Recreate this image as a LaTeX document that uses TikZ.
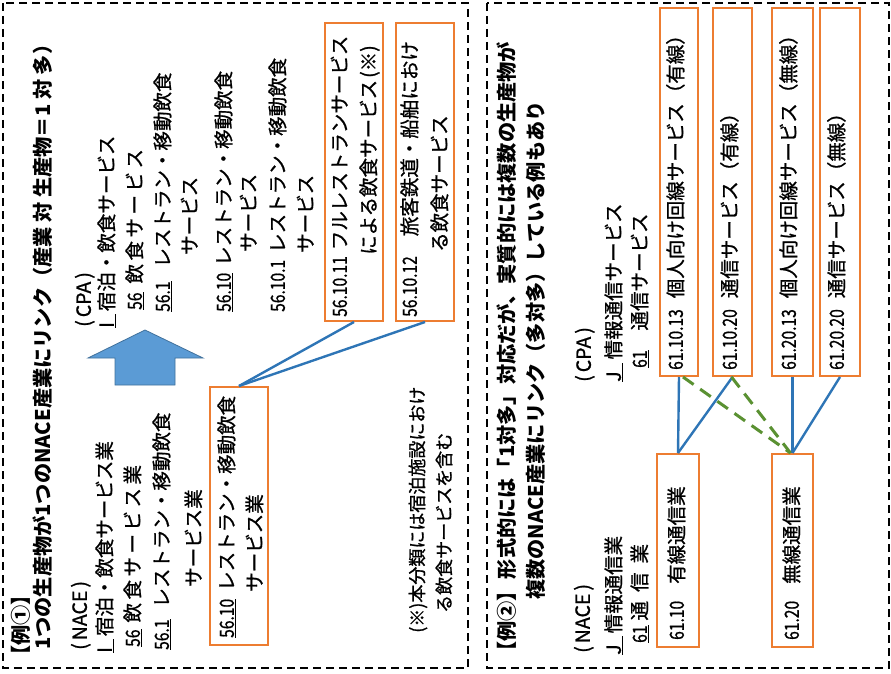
\documentclass[tikz,border=0pt]{standalone}
\usepackage{fontspec}
\usepackage{graphicx}
\setmainfont{Noto Sans CJK JP}
\newfontfamily\rfont{Noto Sans CJK JP}[FakeBold=1.0]
\definecolor{obox}{HTML}{ED7D31}
\definecolor{lblue}{HTML}{2E75B6}
\definecolor{ablue}{HTML}{5B9BD5}
\definecolor{aedge}{HTML}{41719C}
\definecolor{dgreen}{HTML}{5A9132}
\newcommand\uln[1]{\underline{#1}}
\newcommand\nm[1]{\scalebox{0.8}[1]{#1}}
\newcommand\ks{\kern3.5pt}
\begin{document}
\begin{tikzpicture}[x=1pt,y=-1pt,
  lbl/.style={rotate=90, anchor=west, inner sep=0pt, text height=0.88em, text depth=0.12em, font=\rfont\fontsize{19.5}{22}\selectfont},
  lblb/.style={lbl, font=\fontsize{20.2}{23}\selectfont\bfseries},
  lblf/.style={lbl, font=\rfont\fontsize{18}{20}\selectfont},
  obx/.style={draw=obox, line width=2pt, inner sep=0pt},
  lnk/.style={draw=lblue, line width=2.4pt},
  glnk/.style={draw=dgreen, line width=3pt, dash pattern=on 13pt off 8pt},
  pnl/.style={draw=black, line width=1.8pt, dash pattern=on 8pt off 5pt},
]
\useasboundingbox (0,0) rectangle (891,674);
% panels
\draw[pnl] (3,3) rectangle (468,668);
\draw[pnl] (487,3) rectangle (889,668);

% ---------- panel 1 ----------
\node[lblb] (h1a) at (25,666) {【例①】};
\node[lblb] (h1b) at (47,650) {1つの生産物が1つのNACE産業にリンク（産業 対 生産物＝1 対 多）};
\node[lbl] (n1) at (83,650) {(\kern3pt NACE\kern3pt)};
\node[lbl] (n2) at (108,653) {\uln{I\hspace{8pt}}\hspace{3pt}宿泊・飲食サービス業};
\node[lbl] (n3) at (136,647) {\uln{\nm{56}}\hspace{7pt}飲\ks 食\ks サ\ks ー\ks ビ\ks ス\ks 業};
\node[lbl] (n4) at (165,650) {\uln{\nm{56.1}}\hspace{12pt}レストラン・移動飲食};
\node[lbl] (n5) at (197,587) {サービス業};

\node[lbl] (p1) at (87,327) {(\kern3pt CPA\kern3pt)};
\node[lbl] (p2) at (110,328) {\uln{I\hspace{8pt}}\hspace{3pt}宿泊・飲食サービス};
\node[lbl] (p3) at (138,310) {\uln{\nm{56}}\hspace{9pt}飲\ks 食\ks サ\ks ー\ks ビ\ks ス};
\node[lbl] (p4) at (166,312) {\uln{\nm{56.1}}\hspace{14pt}レストラン・移動飲食};
\node[lbl] (p5) at (193,255) {サービス};
\node[lbl] (p6) at (227,312) {\uln{\nm{56.10}}\hspace{7pt}レストラン・移動飲食};
\node[lbl] (p7) at (252,252) {サービス};
\node[lbl] (p8) at (281,312) {\nm{56.10.1}\hspace{7pt}レストラン・移動飲食};
\node[lbl] (p9) at (309,253) {サービス};

% block arrow
\draw[fill=ablue, draw=aedge, line width=0.8pt] (145,330) -- (203,358) -- (175,358) -- (175,385) -- (115,385) -- (115,358) -- (88,358) -- cycle;

% boxes panel 1
\node[obx, minimum width=58pt, minimum height=258pt] (b5610) at (239,516) {};
\node[obx, minimum width=58pt, minimum height=298pt] (b561011) at (354,172) {};
\node[obx, minimum width=58pt, minimum height=298pt] (b561012) at (425,172) {};
\node[lbl] (b1a) at (230,638) {\uln{\nm{56.10}}\hspace{8pt}レストラン・移動飲食};
\node[lbl] (b1b) at (258,592) {サービス業};
\node[lbl] (b2a) at (343,317) {\nm{56.10.11}\hspace{6pt}フルレストランサービス};
\node[lbl] (b2b) at (372,255) {による飲食サービス\kern2pt(※)};
\node[lbl] (b3a) at (413,317) {\nm{56.10.12}\hspace{20pt}旅客鉄道・船舶におけ};
\node[lbl] (b3b) at (443,252) {る飲食サービス};
\node[lblf] (f1) at (420,633) {(※)本分類には宿泊施設におけ};
\node[lblf] (f2) at (447,613) {る飲食サービスを含む};

\draw[lnk] (b5610.north) -- (b561011.south);
\draw[lnk] (b5610.north) -- (b561012.south);

% ---------- panel 2 ----------
\node[lblb] (h2a) at (511,662) {【例②】\hspace{2pt}形式的には「1対多」対応だが、実質的には複数の生産物が};
\node[lblb] (h2b) at (540,600) {複数のNACE産業にリンク（多対多）している例もあり};
\node[lbl] (m1) at (586,653) {(\kern3pt NACE\kern3pt)};
\node[lbl] (m2) at (617,655) {\uln{J\hspace{8pt}}\hspace{3pt}情報通信業};
\node[lbl] (m3) at (643,643) {\uln{\nm{61}}\hspace{5pt}通\hspace{9pt}信\hspace{9pt}業};
\node[lbl] (q1) at (587,382) {(\kern3pt CPA\kern3pt)};
\node[lbl] (q2) at (617,382) {\uln{J\hspace{8pt}}\hspace{4pt}情報通信サービス};
\node[lbl] (q3) at (643,368) {\uln{\nm{61}}\hspace{20pt}通信サービス};

\node[obx, minimum width=42pt, minimum height=193pt] (bY) at (678,550.5) {};
\node[obx, minimum width=41pt, minimum height=193pt] (bM) at (792.5,550.5) {};
\node[obx, minimum width=38pt, minimum height=368pt] (c1) at (679,192) {};
\node[obx, minimum width=39pt, minimum height=368pt] (c2) at (732.5,192) {};
\node[obx, minimum width=41pt, minimum height=368pt] (c3) at (792.5,192) {};
\node[obx, minimum width=40pt, minimum height=368pt] (c4) at (840,192) {};

\node[lbl] (yt) at (680,640) {\nm{61.10}\hspace{17pt}有線通信業};
\node[lbl] (wt) at (795,640) {\nm{61.20}\hspace{17pt}無線通信業};
\node[lbl] (c1t) at (679,370) {\nm{61.10.13}\hspace{11pt}個人向け回線サービス（有線）};
\node[lbl] (c2t) at (733,370) {\nm{61.10.20}\hspace{11pt}通信サービス（有線）};
\node[lbl] (c3t) at (792,370) {\nm{61.20.13}\hspace{11pt}個人向け回線サービス（無線）};
\node[lbl] (c4t) at (840,370) {\nm{61.20.20}\hspace{11pt}通信サービス（無線）};

\draw[lnk] (c1.south) -- (bY.north);
\draw[lnk] (c2.south) -- (bY.north);
\draw[lnk] (c3.south) -- (bM.north);
\draw[lnk] (c4.south) -- (bM.north);
\draw[glnk] ([xshift=4pt]c1.south) -- ([xshift=-2pt]bM.north);
\draw[glnk] ([xshift=-1pt]c2.south) -- ([xshift=-2pt]bM.north);
\end{tikzpicture}
\end{document}
